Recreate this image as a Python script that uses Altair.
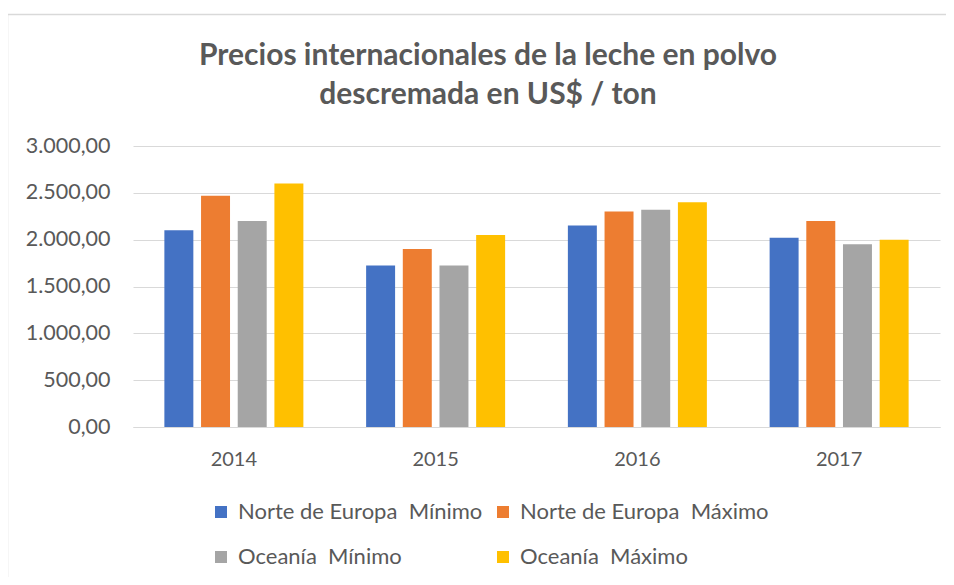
import altair as alt
import pandas as pd

years = ["2014", "2015", "2016", "2017"]
series = ["Norte de Europa  Mínimo", "Norte de Europa  Máximo", "Oceanía  Mínimo", "Oceanía  Máximo"]
colors = ["#4472C4", "#ED7D31", "#A5A5A5", "#FFC000"]
norte_min = [2100, 1725, 2150, 2020]
norte_max = [2470, 1900, 2300, 2200]
oce_min = [2200, 1725, 2320, 1950]
oce_max = [2600, 2050, 2400, 2000]
title_lines = ["Precios internacionales de la leche en polvo", "descremada en US$ / ton"]

rows = []
for s, vals in zip(series, [norte_min, norte_max, oce_min, oce_max]):
    for y, v in zip(years, vals):
        rows.append({"year": y, "serie": s, "valor": v})
df = pd.DataFrame(rows)

FONT = "Lato"
TXT = "#595959"

bars = alt.Chart(df).mark_bar().encode(
    x=alt.X("year:N", title=None, sort=years,
            scale=alt.Scale(paddingInner=0.311, paddingOuter=0.1555),
            axis=alt.Axis(labelAngle=0, ticks=False, domain=True, domainColor="#D9D9D9",
                          labelFontSize=20, labelFont=FONT, labelColor=TXT, labelPadding=22, grid=False)),
    xOffset=alt.XOffset("serie:N", sort=series, scale=alt.Scale(paddingInner=0.21, paddingOuter=0)),
    y=alt.Y("valor:Q", title=None, scale=alt.Scale(domain=[0, 3000]),
            axis=alt.Axis(values=[0, 500, 1000, 1500, 2000, 2500, 3000], ticks=False, domain=False,
                          gridColor="#D9D9D9", gridWidth=1, labelFontSize=21.5, labelFont=FONT,
                          labelColor=TXT, labelPadding=23,
                          labelExpr="replace(replace(replace(format(datum.value, ',.2f'), ',', '#'), '.', ','), '#', '.')")),
    color=alt.Color("serie:N", sort=series, scale=alt.Scale(domain=series, range=colors),
                    legend=alt.Legend(title=None, orient="none", legendX=77, legendY=355,
                                      direction="horizontal", columns=2, columnPadding=9, rowPadding=23,
                                      symbolType="square", symbolSize=144, symbolStrokeWidth=0,
                                      labelFontSize=22, labelFont=FONT, labelColor=TXT, labelOffset=6,
                                      padding=0, labelLimit=400,
                                      labelExpr="replace(datum.label, '  ', '\u00a0 ')")),
)

title1 = alt.Chart(pd.DataFrame({"t": [title_lines[0]]})).mark_text(
    font=FONT, fontSize=30, fontWeight="bold", color=TXT, align="center", baseline="alphabetic"
).encode(text="t:N", x=alt.value(355), y=alt.value(-81))
title2 = alt.Chart(pd.DataFrame({"t": [title_lines[1]]})).mark_text(
    font=FONT, fontSize=30, fontWeight="bold", color=TXT, align="center", baseline="alphabetic"
).encode(text="t:N", x=alt.value(355), y=alt.value(-42))

border = alt.Chart(pd.DataFrame({"a": [0]})).mark_rect(fill=None, stroke="#D9D9D9", strokeWidth=1.5).encode(
    x=alt.value(-125.5), x2=alt.value(840), y=alt.value(-131.5), y2=alt.value(460)
)

chart = alt.layer(border, bars, title1, title2).properties(
    width=807, height=281,
    autosize=alt.AutoSizeParams(type="none"),
    padding={"left": 125, "top": 138, "right": 6, "bottom": 150},
).configure_view(stroke=None)

chart.save("out.html", embed_options={"renderer": "svg", "actions": False})
